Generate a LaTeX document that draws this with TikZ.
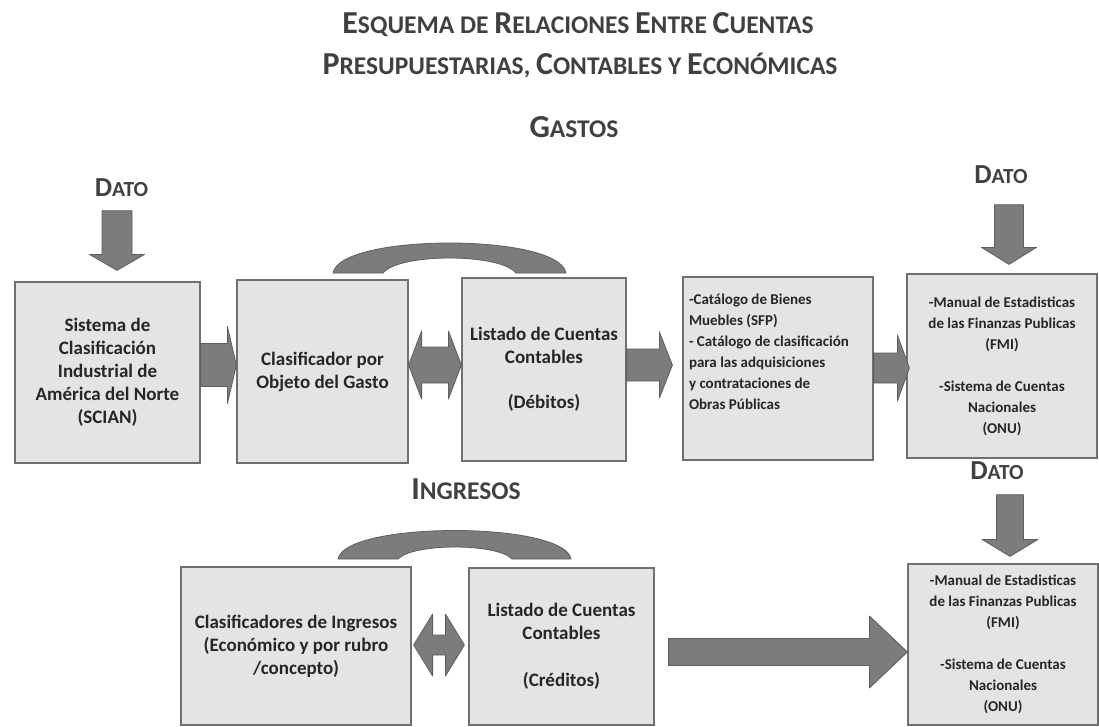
\documentclass[tikz,border=0pt]{standalone}
\usepackage{fontspec}
\setmainfont{Carlito}
\usetikzlibrary{positioning, calc}

\definecolor{boxgray}{HTML}{E4E4E4}
\definecolor{linegray}{HTML}{707070}
\definecolor{arrowgray}{HTML}{7C7C7C}
\definecolor{arrowedge}{HTML}{5E5E5E}
\definecolor{textgray}{HTML}{262626}
\definecolor{titlegray}{HTML}{404040}

% big first letter for the small caps headings
\newcommand{\BL}[2][32]{{\fontsize{#1}{#1}\selectfont #2}}

% block arrows: start, tip, shaft half width, head half width, head length
\newcommand{\harrow}[5]{%
  \filldraw[blockarrow] let \p1=#1, \p2=#2 in
    (\x1,{\y1+#3pt}) -- ({\x2-#5pt},{\y1+#3pt}) -- ({\x2-#5pt},{\y1+#4pt}) -- (\x2,\y1)
    -- ({\x2-#5pt},{\y1-#4pt}) -- ({\x2-#5pt},{\y1-#3pt}) -- (\x1,{\y1-#3pt}) -- cycle;}
\newcommand{\varrow}[5]{%
  \filldraw[blockarrow] let \p1=#1, \p2=#2 in
    ({\x1-#3pt},\y1) -- ({\x1-#3pt},{\y2+#5pt}) -- ({\x1-#4pt},{\y2+#5pt}) -- (\x1,\y2)
    -- ({\x1+#4pt},{\y2+#5pt}) -- ({\x1+#3pt},{\y2+#5pt}) -- ({\x1+#3pt},\y1) -- cycle;}
\newcommand{\darrow}[5]{%
  \filldraw[blockarrow] let \p1=#1, \p2=#2 in
    (\x1,\y1) -- ({\x1+#5pt},{\y1+#4pt}) -- ({\x1+#5pt},{\y1+#3pt}) -- ({\x2-#5pt},{\y1+#3pt})
    -- ({\x2-#5pt},{\y1+#4pt}) -- (\x2,\y1) -- ({\x2-#5pt},{\y1-#4pt}) -- ({\x2-#5pt},{\y1-#3pt})
    -- ({\x1+#5pt},{\y1-#3pt}) -- ({\x1+#5pt},{\y1-#4pt}) -- cycle;}

\begin{document}
\begin{tikzpicture}[x=1pt, y=-1pt,
    box/.style = {draw=linegray, fill=boxgray, line width=1.2pt, align=center,
                  text=textgray, font=\bfseries\fontsize{19}{23}\selectfont},
    smallbox/.style = {box, font=\bfseries\fontsize{15}{21}\selectfont},
    heading/.style = {text=titlegray, inner sep=0pt, font=\bfseries\fontsize{25.5}{30}\selectfont},
    dato/.style = {heading, font=\bfseries\fontsize{21.5}{26}\selectfont},
    blockarrow/.style = {fill=arrowgray, draw=arrowedge, line width=0.8pt, line join=round}]
  \useasboundingbox (0,0) rectangle (1099,727);

  % headings
  \node[heading] (title1) at (578,25) {\BL{E}SQUEMA DE \BL{R}ELACIONES \BL{E}NTRE \BL{C}UENTAS};
  \node[heading] (title2) at (580,66) {\BL{P}RESUPUESTARIAS, \BL{C}ONTABLES Y \BL{E}CONÓMICAS};
  \node[heading] (gastos) at (574,127) {\BL{G}ASTOS};
  \node[heading] (ingresos) at (466,489) {\BL{I}NGRESOS};
  \node[dato] (dato1) at (121.5,188) {\BL[27.5]{D}ATO};
  \node[dato] (dato2) at (1001,175) {\BL[27.5]{D}ATO};
  \node[dato] (dato3) at (997,471) {\BL[27.5]{D}ATO};

  % gastos
  \node[box, minimum width=185, minimum height=181] (b1) at (107.5,372.5)
    {Sistema de\\Clasificación\\Industrial de\\América del Norte\\(SCIAN)};
  \node[box, minimum width=171, minimum height=183] (b2) at (322.5,371.5)
    {Clasificador por\\Objeto del Gasto};
  \node[box, minimum width=164, minimum height=183] (b3) at (544,369.5)
    {Listado de Cuentas\\Contables\\[22pt](Débitos)};
  \node[smallbox, minimum width=190, minimum height=183] (b4) at (778,368.5) {};
  \node[smallbox, draw=none, fill=none, align=left, anchor=west, inner sep=0pt, yshift=17pt]
    (b4txt) at ([xshift=6pt]b4.west)
    {-Catálogo de Bienes\\Muebles (SFP)\\- Catálogo de clasificación\\para  las adquisiciones\\y contrataciones de\\Obras Públicas};
  \node[smallbox, minimum width=190, minimum height=184] (b5) at (1002,366)
    {-Manual de Estadisticas\\de las Finanzas  Publicas\\(FMI)\\[21pt]-Sistema de  Cuentas\\Nacionales\\(ONU)};

  % ingresos
  \node[box, minimum width=230, minimum height=158] (b6) at (296,646)
    {Clasificadores de Ingresos\\(Económico y por rubro\\/concepto)};
  \node[box, minimum width=185, minimum height=157] (b7) at (561.5,646.5)
    {Listado de Cuentas\\Contables\\[24pt](Créditos)};
  \node[smallbox, minimum width=190, minimum height=161] (b8) at (1003,644.5)
    {-Manual de Estadisticas\\de las Finanzas  Publicas\\(FMI)\\[21pt]-Sistema de  Cuentas\\Nacionales\\(ONU)};

  % arrows
  \varrow{($(dato1.south)+(-4.5,13.5)$)}{($(b1.north)+(0,-11)$)}{15}{27.5}{16}
  \varrow{($(dato2.south)+(8,20.5)$)}{($(b5.north)+(0,-9)$)}{14.5}{27.5}{17}
  \varrow{($(dato3.south)+(13,14.5)$)}{($(b8.north)+(0,-7)$)}{13.5}{28}{17}
  \harrow{($(b1.east)+(0,-7.5)$)}{(b2.west)}{21.5}{38.5}{9}
  \darrow{($(b2.east)+(0,-6.5)$)}{(b3.west)}{18}{34}{13}
  \harrow{($(b3.east)+(0,-4.5)$)}{($(b4.west)+(-10,0)$)}{16}{33}{13}
  \harrow{($(b4.east)+(0,-0.5)$)}{($(b5.west)+(3,0)$)}{15}{33}{12}
  \darrow{($(b6.east)+(2,-1)$)}{($(b7.west)+(-4,0)$)}{10}{31}{19}
  \harrow{($(b7.east)+(14,5.5)$)}{(b8.west)}{13.5}{36}{38}

  % arcs over the pairs
  \filldraw[blockarrow] (333,273) .. controls (340,233) and (559,233) .. (566,273)
    -- (516,273) .. controls (500,253) and (399,253) .. (383,273) -- cycle;
  \filldraw[blockarrow] (338,559) .. controls (345,521) and (564,521) .. (571,559)
    -- (512,559) .. controls (497,543) and (413,543) .. (398,559) -- cycle;
\end{tikzpicture}
\end{document}
